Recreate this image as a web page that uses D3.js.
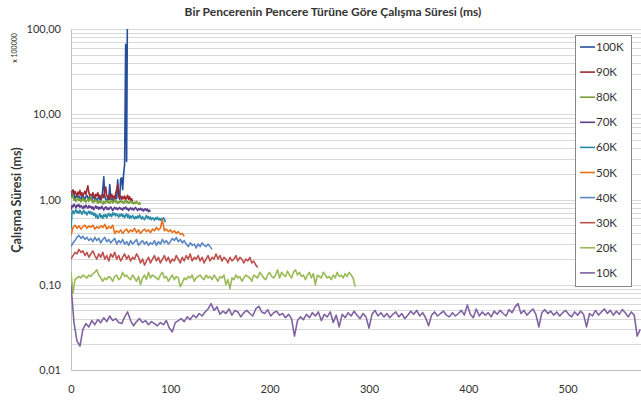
<!DOCTYPE html>
<html>
<head>
<meta charset="utf-8">
<script src="https://cdn.jsdelivr.net/npm/d3@7"></script>
<style>
  body { margin: 0; background: #fff; }
  text { font-family: Lato, "Open Sans", sans-serif; fill: #333; }
</style>
</head>
<body>
<svg id="chart" width="641" height="403"></svg>
<script>
// series names (legend order) and colours
const seriesNames = ["100K", "90K", "80K", "70K", "60K", "50K", "40K", "30K", "20K", "10K"];
const seriesColors = ["#254f9b", "#9e2a2f", "#77a03b", "#5c3e8e", "#2a8ba8", "#e7711b", "#5b86c5", "#c0504d", "#9bbb59", "#8064a2"];
// x distance between two stored values of each series
const seriesSteps = [1, 1, 1, 1, 1, 2, 2, 2, 2, 3];

const s100K = [1.05,1.15,1.1,1.2,1.0,1.08,1.12,1.02,1.1,1.05,0.98,1.1,1.15,1.04,1.0,1.08,1.12,1.05,1.0,1.1,
  1.02,0.98,1.06,1.1,1.0,1.04,0.96,1.02,1.08,1.0,0.95,1.05,1.3,1.85,1.1,1.0,0.96,1.04,1.0,1.5,
  1.05,0.98,1.02,0.95,1.0,1.08,1.02,1.7,1.1,1.0,1.75,1.8,1.3,2.0,2.6,66,2.8,500];
const s90K = [1.25,1.2,1.3,1.15,1.25,1.18,1.1,1.22,1.15,1.28,1.12,1.2,1.1,1.18,1.25,1.15,1.3,1.45,1.2,1.1,
  1.15,1.08,1.2,1.12,1.05,1.15,1.1,1.2,1.08,1.12,1.02,1.1,1.15,1.05,1.25,1.4,1.1,1.05,1.12,1.0,
  1.08,1.15,1.05,1.1,1.0,1.2,1.3,1.5,1.15,1.05,1.1,1.0,1.08,1.02,1.1,0.98,1.05,1.12,1.0,1.08,0.98,1.02,0.95];
const s80K = [1.1,1.05,1.12,0.98,1.02,0.95,1.0,1.05,0.97,1.02,0.94,0.98,1.03,0.96,1.0,0.93,0.97,1.02,0.95,0.99,
  1.1,0.96,0.92,0.98,0.94,1.0,0.95,0.9,0.96,0.92,0.97,0.93,0.88,0.95,0.9,0.94,0.98,0.92,0.96,0.9,
  0.94,0.97,0.91,0.95,0.99,0.93,0.96,0.9,0.94,0.92,0.97,0.93,0.95,0.9,0.94,0.98,0.92,0.95,0.9,0.93,
  0.96,0.91,0.94,0.89,0.93,0.9,0.95,0.91,0.88,0.92,0.87];
const s70K = [0.75,0.85,0.82,0.88,0.84,0.8,0.86,0.83,0.87,0.81,0.85,0.82,0.78,0.84,0.8,0.86,0.82,0.79,0.85,0.81,
  0.83,0.78,0.82,0.76,0.8,0.84,0.79,0.82,0.77,0.81,0.78,0.83,0.79,0.75,0.8,0.82,0.77,0.8,0.76,0.79,
  0.82,0.78,0.74,0.79,0.81,0.77,0.8,0.76,0.78,0.81,0.77,0.79,0.75,0.8,0.78,0.82,0.77,0.79,0.74,0.78,
  0.8,0.76,0.79,0.75,0.78,0.81,0.77,0.74,0.78,0.76,0.79,0.75,0.77,0.73,0.76,0.78,0.74,0.77,0.72,0.75,0.72];
const s60K = [0.45,0.7,0.74,0.68,0.72,0.76,0.7,0.73,0.69,0.75,0.71,0.67,0.72,0.74,0.69,0.71,0.66,0.7,0.73,0.68,
  0.72,0.67,0.7,0.65,0.69,0.62,0.66,0.6,0.64,0.68,0.62,0.65,0.6,0.66,0.63,0.67,0.61,0.65,0.69,0.64,
  0.67,0.63,0.7,0.66,0.69,0.64,0.68,0.65,0.62,0.67,0.64,0.68,0.63,0.66,0.61,0.65,0.68,0.62,0.66,0.6,
  0.64,0.61,0.65,0.62,0.59,0.63,0.6,0.64,0.61,0.66,0.62,0.59,0.63,0.6,0.58,0.62,0.65,0.6,0.63,0.59,
  0.62,0.58,0.61,0.6,0.57,0.61,0.59,0.62,0.58,0.6,0.57,0.6,0.58,0.61,0.59,0.54];
const s50K = [0.38,0.47,0.5,0.46,0.49,0.45,0.48,0.5,0.46,0.49,0.47,0.5,0.45,0.48,0.46,0.49,0.47,0.51,0.45,0.48,
  0.46,0.5,0.4,0.43,0.41,0.44,0.4,0.43,0.45,0.41,0.44,0.42,0.46,0.41,0.44,0.4,0.43,0.45,0.42,0.44,
  0.41,0.45,0.43,0.47,0.44,0.46,0.58,0.43,0.45,0.42,0.44,0.41,0.43,0.4,0.42,0.39,0.4,0.37];
const s40K = [0.28,0.31,0.33,0.36,0.38,0.35,0.37,0.34,0.36,0.33,0.35,0.32,0.36,0.33,0.35,0.31,0.34,0.36,0.32,0.34,
  0.31,0.33,0.35,0.3,0.33,0.31,0.34,0.3,0.32,0.29,0.33,0.3,0.32,0.34,0.29,0.31,0.33,0.3,0.32,0.29,
  0.31,0.3,0.33,0.29,0.32,0.3,0.34,0.31,0.33,0.3,0.32,0.35,0.33,0.36,0.32,0.34,0.31,0.33,0.3,0.28,
  0.31,0.29,0.3,0.27,0.3,0.28,0.31,0.29,0.28,0.3,0.28,0.26];
const s30K = [0.2,0.22,0.24,0.23,0.26,0.24,0.25,0.22,0.24,0.21,0.23,0.25,0.22,0.2,0.23,0.21,0.24,0.2,0.22,0.19,
  0.23,0.21,0.24,0.2,0.22,0.19,0.21,0.23,0.2,0.22,0.19,0.21,0.2,0.23,0.21,0.18,0.2,0.17,0.19,0.21,
  0.18,0.2,0.22,0.19,0.21,0.18,0.2,0.22,0.19,0.21,0.18,0.2,0.19,0.22,0.2,0.18,0.21,0.19,0.22,0.2,
  0.23,0.19,0.21,0.2,0.22,0.19,0.21,0.18,0.2,0.22,0.19,0.21,0.2,0.23,0.2,0.22,0.19,0.21,0.2,0.18,
  0.21,0.19,0.2,0.22,0.19,0.21,0.2,0.18,0.2,0.19,0.21,0.18,0.19,0.17,0.16];
const s20K = [0.14,0.08,0.115,0.12,0.125,0.12,0.13,0.125,0.12,0.13,0.125,0.135,0.14,0.15,0.13,0.12,0.11,0.12,0.115,0.125,
  0.12,0.11,0.125,0.13,0.115,0.12,0.14,0.125,0.13,0.12,0.115,0.13,0.12,0.11,0.125,0.1,0.12,0.13,0.115,0.14,
  0.12,0.13,0.125,0.12,0.115,0.13,0.14,0.12,0.125,0.11,0.12,0.13,0.115,0.125,0.12,0.095,0.105,0.12,0.115,0.125,
  0.12,0.13,0.11,0.12,0.125,0.13,0.12,0.115,0.13,0.12,0.125,0.115,0.13,0.12,0.11,0.125,0.12,0.13,0.1,0.115,
  0.09,0.12,0.115,0.13,0.12,0.125,0.11,0.12,0.13,0.125,0.12,0.11,0.13,0.125,0.12,0.14,0.13,0.12,0.115,0.13,
  0.14,0.125,0.12,0.13,0.15,0.12,0.14,0.13,0.125,0.145,0.13,0.12,0.14,0.15,0.13,0.14,0.125,0.13,0.115,0.13,
  0.14,0.12,0.135,0.1,0.13,0.125,0.12,0.14,0.13,0.12,0.125,0.115,0.13,0.12,0.14,0.125,0.13,0.12,0.135,0.125,
  0.14,0.13,0.12,0.095];
const s10K = [0.1,0.036,0.022,0.019,0.03,0.035,0.032,0.038,0.034,0.039,
  0.036,0.041,0.037,0.043,0.038,0.04,0.036,0.035,0.042,0.048,
  0.038,0.033,0.037,0.04,0.036,0.038,0.034,0.037,0.035,0.033,
  0.036,0.034,0.038,0.031,0.028,0.036,0.038,0.04,0.037,0.042,
  0.039,0.044,0.041,0.046,0.043,0.048,0.052,0.06,0.05,0.055,
  0.045,0.049,0.046,0.052,0.044,0.05,0.048,0.042,0.047,0.05,
  0.046,0.043,0.052,0.056,0.048,0.046,0.051,0.043,0.047,0.049,
  0.044,0.046,0.041,0.045,0.04,0.025,0.038,0.042,0.039,0.045,
  0.041,0.047,0.043,0.048,0.038,0.045,0.042,0.048,0.036,0.044,
  0.032,0.045,0.041,0.047,0.043,0.049,0.044,0.04,0.046,0.042,
  0.031,0.045,0.05,0.043,0.047,0.042,0.046,0.041,0.045,0.048,
  0.042,0.046,0.04,0.044,0.049,0.045,0.05,0.043,0.047,0.041,
  0.033,0.044,0.048,0.043,0.046,0.049,0.044,0.042,0.047,0.043,
  0.046,0.05,0.044,0.058,0.045,0.041,0.052,0.043,0.048,0.044,
  0.047,0.042,0.049,0.045,0.05,0.046,0.043,0.051,0.047,0.055,
  0.06,0.046,0.05,0.044,0.048,0.052,0.045,0.032,0.047,0.051,
  0.046,0.049,0.044,0.048,0.043,0.047,0.05,0.045,0.042,0.048,
  0.044,0.049,0.045,0.032,0.046,0.043,0.05,0.044,0.048,0.052,
  0.046,0.05,0.044,0.049,0.045,0.051,0.047,0.042,0.048,0.044,
  0.025,0.03];
const seriesValues = [s100K, s90K, s80K, s70K, s60K, s50K, s40K, s30K, s20K, s10K];

// axis ticks
const xTicks = [0, 100, 200, 300, 400, 500];
const yTicks = [0.01, 0.1, 1, 10, 100];

const titleText = "Bir Pencerenin Pencere Türüne Göre Çalışma Süresi (ms)";
const yTitleText = "Çalışma Süresi (ms)";
const unitText = "x 100000";

const margin = { top: 29, left: 71, bottom: 33 };
const width = 641, height = 403;

const svg = d3.select("#chart");

const x = d3.scaleLinear()
    .domain([0, 600])
    .range([margin.left, margin.left + 596]);

const y = d3.scaleLog()
    .domain([0.01, 100])
    .range([height - margin.bottom, margin.top]);

// horizontal grid, one line for every 1..9 step of each decade
const gridValues = [];
for (let k = -2; k <= 1; k++) {
    for (let m = 1; m <= 9; m++) gridValues.push(m * Math.pow(10, k));
}
gridValues.push(100);

svg.append("g")
    .selectAll("line")
    .data(gridValues)
    .join("line")
    .attr("x1", x(0))
    .attr("x2", x(600))
    .attr("y1", d => Math.round(y(d)) + 0.5)
    .attr("y2", d => Math.round(y(d)) + 0.5)
    .attr("stroke", "#d9d9d9")
    .attr("stroke-width", 1);

const fmt = d => d.toFixed(2).replace(".", ",");

const yAxis = svg.append("g")
    .attr("transform", `translate(${x(0)},0)`)
    .call(d3.axisLeft(y).tickValues(yTicks).tickFormat(fmt).tickSize(0).tickPadding(10));

const xAxis = svg.append("g")
    .attr("transform", `translate(0,${y(0.01)})`)
    .call(d3.axisBottom(x).tickValues(xTicks).tickSize(0).tickPadding(15));

[xAxis, yAxis].forEach(g => {
    g.select(".domain").attr("stroke", "#bfbfbf");
    g.selectAll("text").attr("font-size", 11).attr("fill", "#333")
        .attr("font-family", "Lato, 'Open Sans', sans-serif");
});

// clip so the 100K spike stops at the top of the plot
svg.append("clipPath")
    .attr("id", "plot-clip")
    .append("rect")
    .attr("x", x(0))
    .attr("y", y(100))
    .attr("width", x(600) - x(0))
    .attr("height", y(0.01) - y(100));

const lines = svg.append("g").attr("clip-path", "url(#plot-clip)");

seriesNames.forEach((name, i) => {
    const step = seriesSteps[i];
    const line = d3.line()
        .x((d, j) => x(j * step))
        .y(d => y(d));
    lines.append("path")
        .datum(seriesValues[i])
        .attr("fill", "none")
        .attr("stroke", seriesColors[i])
        .attr("stroke-width", 1.6)
        .attr("stroke-linejoin", "round")
        .attr("d", line);
});

// titles
svg.append("text")
    .attr("x", 333)
    .attr("y", 16)
    .attr("text-anchor", "middle")
    .attr("font-size", 12)
    .attr("font-weight", "bold")
    .text(titleText);

svg.append("text")
    .attr("transform", "translate(21,200) rotate(-90)")
    .attr("text-anchor", "middle")
    .attr("font-size", 12.5)
    .attr("font-weight", "bold")
    .text(yTitleText);

svg.append("text")
    .attr("transform", "translate(17,48) rotate(-90)")
    .attr("text-anchor", "middle")
    .attr("font-size", 7)
    .text(unitText);

// legend
const legend = svg.append("g").attr("transform", "translate(575,35)");
legend.append("rect")
    .attr("x", 0.5)
    .attr("y", 0.5)
    .attr("width", 56)
    .attr("height", 251)
    .attr("fill", "#fff")
    .attr("stroke", "#888");

const item = legend.selectAll("g.item")
    .data(seriesNames)
    .join("g")
    .attr("class", "item")
    .attr("transform", (d, i) => `translate(0,${12 + i * 25.1})`);

item.append("line")
    .attr("x1", 5)
    .attr("x2", 20)
    .attr("stroke", (d, i) => seriesColors[i])
    .attr("stroke-width", 1.6);

item.append("text")
    .attr("x", 21)
    .attr("dy", "0.35em")
    .attr("font-size", 11.5)
    .text(d => d);
</script>
</body>
</html>
